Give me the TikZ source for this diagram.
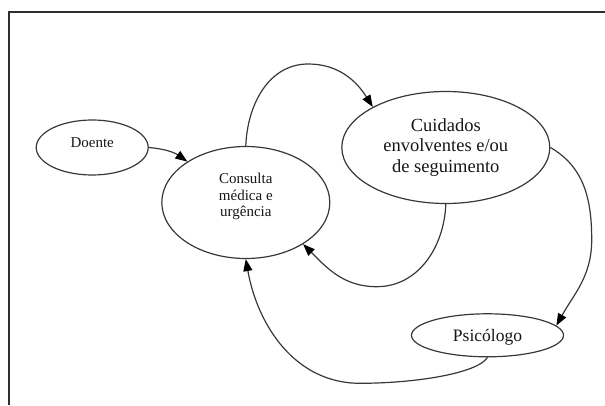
\documentclass[tikz,border=0pt]{standalone}
\usepackage{fontspec}
\setmainfont{Liberation Serif}
\newfontfamily\tnrfont{Liberation Serif}
\usetikzlibrary{shapes.geometric,arrows.meta}
\definecolor{linec}{HTML}{383838}
\definecolor{framec}{HTML}{2E2E2E}
\definecolor{textc}{HTML}{161616}
\begin{document}
\begin{tikzpicture}[x=1pt,y=1pt,
  box/.style={ellipse, draw=linec, line width=1.2pt, inner sep=0pt, text=textc},
  conn/.style={draw=linec, line width=1.2pt, -{Triangle[length=12pt,width=9pt,color=black]}},
  small/.style={font=\tnrfont\fontsize{15}{16.5}\selectfont},
  big/.style={font=\tnrfont\fontsize{18.5}{20.5}\selectfont}
]
\useasboundingbox (0,0) rectangle (605,405);
\draw[framec, line width=2pt] (9.3,0) -- (9.3,393.3) -- (605,393.3);

\node[box, small, minimum width=112pt, minimum height=55pt] (doente) at (92.2,257.5)
  {\raisebox{0pt}[0pt][0pt]{Doente}};
\node[box, small, minimum width=168pt, minimum height=112pt] (consulta) at (245.8,202.5)
  {\raisebox{2pt}[0pt][0pt]{\begin{tabular}{@{}c@{}}Consulta\\médica e\\urgência\end{tabular}}};
\node[box, big, minimum width=208pt, minimum height=112pt] (cuidados) at (445.8,257.5)
  {\raisebox{-4.5pt}[0pt][0pt]{\begin{tabular}{@{}c@{}}Cuidados\\envolventes e/ou\\de seguimento\end{tabular}}};
\node[box, font=\tnrfont\fontsize{17.5}{20}\selectfont, minimum width=152pt, minimum height=43pt] (psicologo) at (487.5,69.7)
  {\raisebox{-6pt}[0pt][0pt]{Psicólogo}};

\coordinate (p2) at (308.3,341);
\coordinate (p3) at (376.7,118.3);
\coordinate (p4) at (591.7,165);
\coordinate (p5) at (360,21.7);

\draw[conn] (doente.east) to[out=-5,in=145] (consulta.145);
\draw[conn] (consulta.north) to[out=88,in=180] (p2) to[out=0,in=122] (cuidados.151);
\draw[conn] (cuidados.south) to[out=-92,in=0] (p3) to[out=180,in=-45] (consulta.-36);
\draw[conn] (cuidados.east) to[out=-30,in=90] (p4) to[out=-90,in=61] (psicologo.8);
\draw[conn] (psicologo.south) .. controls +(-10,-16) and +(55,0) .. (p5) to[out=180,in=-80] (consulta.south);
\end{tikzpicture}
\end{document}
